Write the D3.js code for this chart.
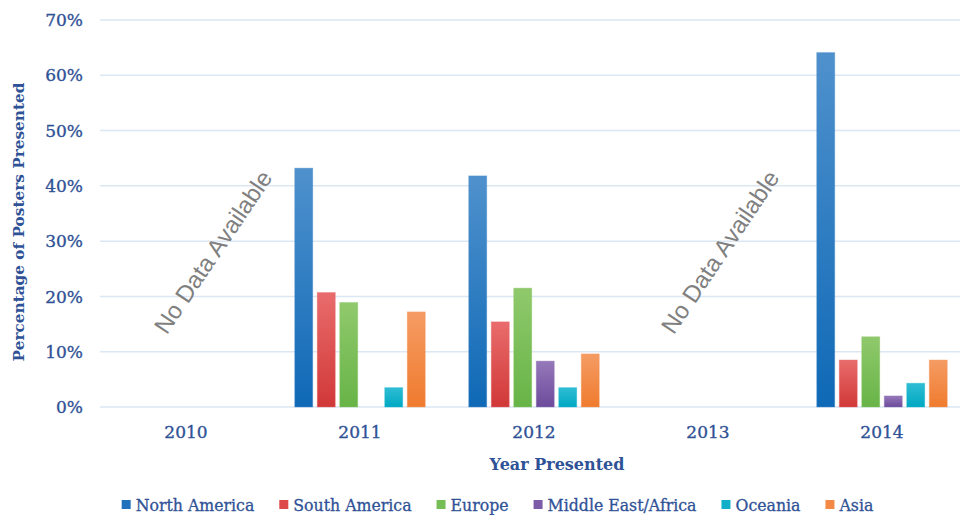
<!DOCTYPE html>
<html>
<head>
<meta charset="utf-8">
<script src="https://cdn.jsdelivr.net/npm/d3@7"></script>
<style>
  html, body { margin: 0; padding: 0; background: #fff; }
  svg { display: block; }
</style>
</head>
<body>
<svg id="chart" width="960" height="515"></svg>
<script>
// ---- data ----
const years = ["2010", "2011", "2012", "2013", "2014"];
const regions = ["North America", "South America", "Europe", "Middle East/Africa", "Oceania", "Asia"];
const northAmerica   = [null, 43.2, 41.8, null, 64.1];
const southAmerica   = [null, 20.7, 15.4, null, 8.5];
const europe         = [null, 18.9, 21.5, null, 12.7];
const middleEastAfrica = [null, 0, 8.3, null, 2.0];
const oceania        = [null, 3.5, 3.5, null, 4.3];
const asia           = [null, 17.2, 9.6, null, 8.5];
const yTicks = [0, 10, 20, 30, 40, 50, 60, 70];
const noDataYears = ["2010", "2013"];
const noDataLabel = "No Data Available";

const seriesValues = [northAmerica, southAmerica, europe, middleEastAfrica, oceania, asia];
const colorsTop    = ["#4f91cd", "#e96c6c", "#90c96c", "#9679b9", "#2fbdd4", "#f59c64"];
const colorsBottom = ["#0f69b6", "#d13838", "#67b447", "#6c4a9c", "#00a8c2", "#ef7b2e"];
const colorsLegend = ["#1f72bb", "#dd4848", "#77bd56", "#7c5ca8", "#12b0c8", "#f28a45"];

const svg = d3.select("#chart");
const textColor = "#2f5296";
const gridColor = "#dbe7f3";

const x = d3.scaleBand().domain(years).range([99, 969]).paddingInner(0.25).paddingOuter(0.125);
const xSub = d3.scaleBand().domain(regions).range([0, x.bandwidth()]).paddingInner(0.2).paddingOuter(0);
const y = d3.scaleLinear().domain([0, 70]).range([407, 20]);

// gradients
const defs = svg.append("defs");
regions.forEach((r, i) => {
  const g = defs.append("linearGradient").attr("id", "grad" + i)
    .attr("x1", 0).attr("y1", 0).attr("x2", 0).attr("y2", 1);
  g.append("stop").attr("offset", "0%").attr("stop-color", colorsTop[i]);
  g.append("stop").attr("offset", "100%").attr("stop-color", colorsBottom[i]);
});

// gridlines
svg.append("g").selectAll("line").data(yTicks).join("line")
  .attr("x1", 100).attr("x2", 960)
  .attr("y1", d => y(d)).attr("y2", d => y(d))
  .attr("stroke", gridColor).attr("stroke-width", 1.5);

// y tick labels
svg.append("g").selectAll("text").data(yTicks).join("text")
  .attr("x", 83).attr("y", d => y(d)).attr("dy", "0.36em")
  .attr("text-anchor", "end")
  .attr("font-family", "'DejaVu Serif', serif").attr("font-size", 17)
  .attr("fill", textColor).attr("stroke", textColor).attr("stroke-width", 0.35)
  .text(d => d + "%");

// x tick labels
svg.append("g").selectAll("text").data(years).join("text")
  .attr("x", d => x(d) + x.bandwidth() / 2).attr("y", 438)
  .attr("text-anchor", "middle")
  .attr("font-family", "'DejaVu Serif', serif").attr("font-size", 17)
  .attr("fill", textColor).attr("stroke", textColor).attr("stroke-width", 0.35)
  .text(d => d);

// bars
const barData = [];
years.forEach((yr, yi) => {
  regions.forEach((r, ri) => {
    const v = seriesValues[ri][yi];
    if (v !== null && v > 0) barData.push({ year: yr, region: r, ri, value: v });
  });
});
svg.append("g").selectAll("rect").data(barData).join("rect")
  .attr("x", d => x(d.year) + xSub(d.region))
  .attr("width", xSub.bandwidth())
  .attr("y", d => y(d.value))
  .attr("height", d => y(0) - y(d.value))
  .attr("fill", d => "url(#grad" + d.ri + ")")
  .attr("stroke", d => colorsTop[d.ri]).attr("stroke-opacity", 0.5).attr("stroke-width", 0.8);

// no data annotations
const noDataOffsets = [27, 12];
svg.append("g").selectAll("text").data(noDataYears).join("text")
  .attr("transform", (d, i) => `translate(${x(d) + x.bandwidth() / 2 + noDataOffsets[i]},252) rotate(-56)`)
  .attr("text-anchor", "middle").attr("dy", "0.35em")
  .attr("font-family", "'Liberation Sans', Arial, sans-serif").attr("font-size", 24)
  .attr("fill", "#808080")
  .text(noDataLabel);

// axis titles
svg.append("text")
  .attr("transform", "translate(24,222) rotate(-90)")
  .attr("text-anchor", "middle")
  .attr("font-family", "'DejaVu Serif', serif").attr("font-weight", "bold").attr("font-size", 15.3)
  .attr("fill", textColor)
  .text("Percentage of Posters Presented");

svg.append("text")
  .attr("x", 557).attr("y", 470)
  .attr("text-anchor", "middle")
  .attr("font-family", "'DejaVu Serif', serif").attr("font-weight", "bold").attr("font-size", 16)
  .attr("fill", textColor)
  .text("Year Presented");

// legend
const legend = svg.append("g");
let cx = 0;
regions.forEach((r, i) => {
  const g = legend.append("g");
  g.append("rect").attr("x", 0).attr("y", -11).attr("width", 9).attr("height", 9).attr("fill", colorsLegend[i]);
  const t = g.append("text").attr("x", 14).attr("y", 0)
    .attr("font-family", "'DejaVu Serif Condensed', 'DejaVu Serif', serif")
    .attr("font-stretch", "condensed")
    .attr("font-size", 17.5).attr("fill", textColor)
    .attr("stroke", textColor).attr("stroke-width", 0.3).text(r);
  const w = t.node().getComputedTextLength();
  g.attr("transform", `translate(${cx},0)`);
  cx += 14 + w + 25;
});
const totalW = cx - 25;
legend.attr("transform", `translate(${497.5 - totalW / 2},511)`);
</script>
</body>
</html>
